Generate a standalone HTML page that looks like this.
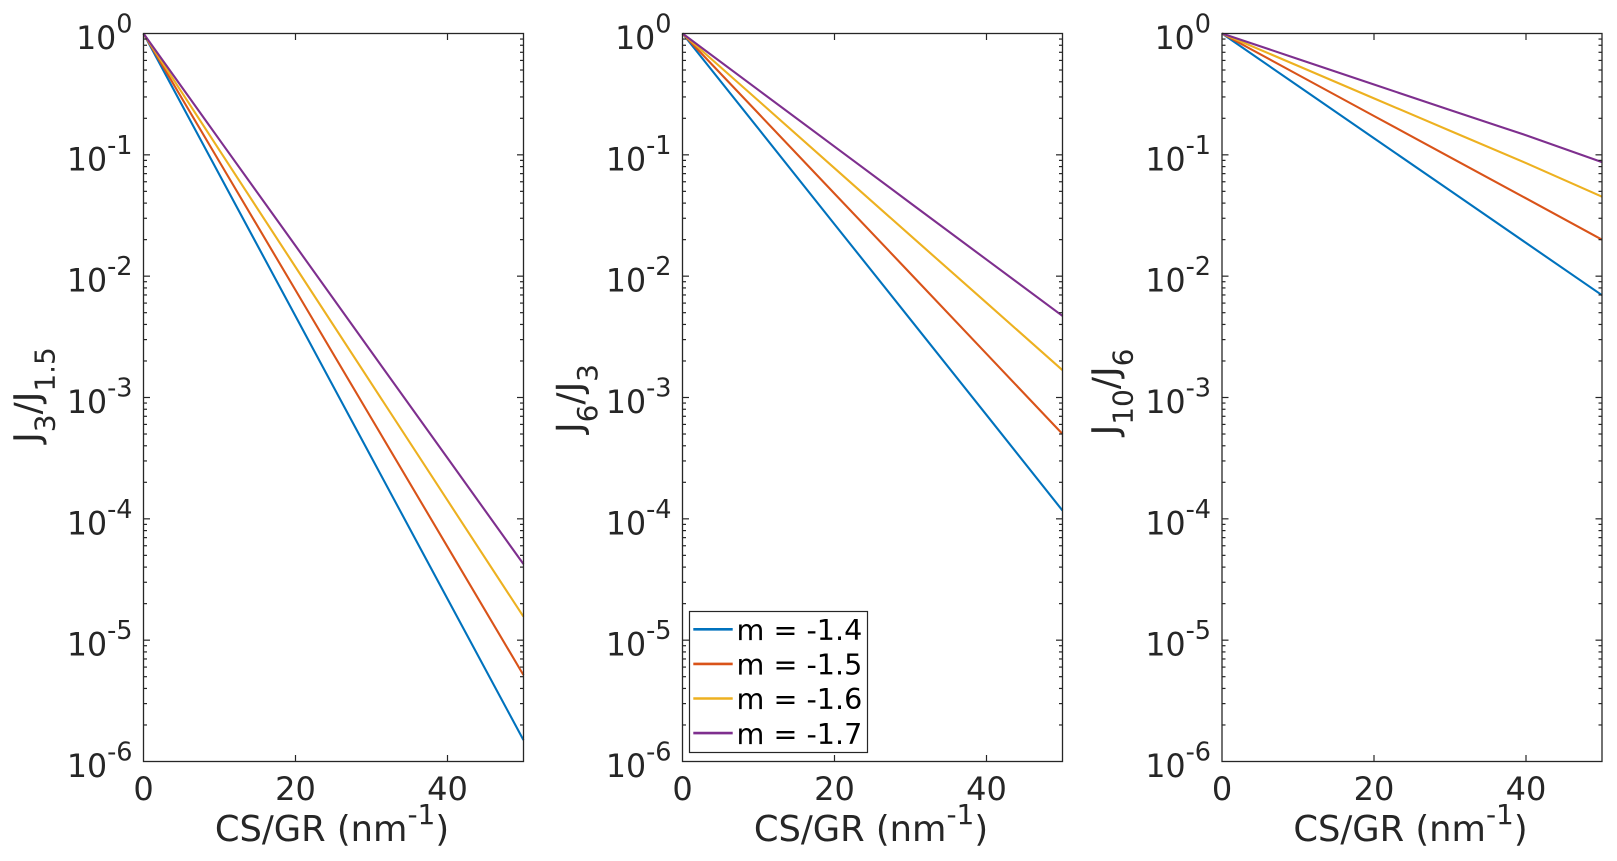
<!DOCTYPE html>
<html>
<head>
<meta charset="utf-8">
<title>J ratio charts</title>
<style>
html,body{margin:0;padding:0;background:#fff;width:1617px;height:861px;overflow:hidden}
svg{display:block}
text{font-family:"DejaVu Sans","Liberation Sans",sans-serif;fill:#262626}
</style>
</head>
<body>
<svg id="chart" xmlns="http://www.w3.org/2000/svg" width="1617" height="861" viewBox="0 0 1617 861"></svg>
<script>
// ---- data ----
const csOverGr = [0, 10, 20, 30, 40, 50];
const seriesNames = ['m = -1.4', 'm = -1.5', 'm = -1.6', 'm = -1.7'];

const ratio3Over1p5Blue = [1, 0.0684, 0.00468, 0.00032, 0.0000219, 0.0000015];
const ratio3Over1p5Red = [1, 0.0875, 0.00767, 0.000671, 0.0000588, 0.00000515];
const ratio3Over1p5Yellow = [1, 0.109, 0.0119, 0.0013, 0.000142, 0.0000156];
const ratio3Over1p5Purple = [1, 0.133, 0.0178, 0.00237, 0.000317, 0.0000423];

const ratio6Over3Blue = [1, 0.164, 0.0268, 0.00439, 0.000718, 0.000117];
const ratio6Over3Red = [1, 0.219, 0.0479, 0.0105, 0.00229, 0.0005];
const ratio6Over3Yellow = [1, 0.279, 0.0776, 0.0216, 0.00603, 0.00168];
const ratio6Over3Purple = [1, 0.342, 0.117, 0.04, 0.0137, 0.0047];

const ratio10Over6Blue = [1, 0.37, 0.137, 0.0508, 0.0188, 0.00697];
const ratio10Over6Red = [1, 0.457, 0.209, 0.0957, 0.0438, 0.02];
const ratio10Over6Yellow = [1, 0.541, 0.292, 0.158, 0.0855, 0.0452];
const ratio10Over6Purple = [1, 0.617, 0.38, 0.234, 0.145, 0.087];

const xTickValues = [0, 20, 40];
const yTickExponents = [0, -1, -2, -3, -4, -5, -6];
const minorMultipliers = [2, 3, 4, 5, 6, 7, 8, 9];

// ---- layout and style ----
const SVG_NS = 'http://www.w3.org/2000/svg';
const svg = document.getElementById('chart');
const AX_TOP = 33.5, AX_BOTTOM = 761.5, AX_WIDTH = 380;
const X_MAX = 50, Y_DECADES = 6;
const AXIS_COLOR = '#262626';
const COLORS = ['#0072BD', '#D95319', '#EDB120', '#7E2F8E'];

const panelDefs = [
  { id: 'j3-j1p5', left: 143.5, main: ['J', '3', '/J', '1.5'], labelX: 39.5, labelY: 395,
    series: [ratio3Over1p5Blue, ratio3Over1p5Red, ratio3Over1p5Yellow, ratio3Over1p5Purple] },
  { id: 'j6-j3', left: 682.5, main: ['J', '6', '/J', '3'], labelX: 582, labelY: 398.5,
    series: [ratio6Over3Blue, ratio6Over3Red, ratio6Over3Yellow, ratio6Over3Purple] },
  { id: 'j10-j6', left: 1222, main: ['J', '10', '/J', '6'], labelX: 1117.5, labelY: 392,
    series: [ratio10Over6Blue, ratio10Over6Red, ratio10Over6Yellow, ratio10Over6Purple] }
];

function node(tag, attrs, parent) {
  const el = document.createElementNS(SVG_NS, tag);
  for (const k in attrs) el.setAttribute(k, attrs[k]);
  (parent || svg).appendChild(el);
  return el;
}
function xScale(v, left) { return left + (v / X_MAX) * AX_WIDTH; }
function yScale(v) { return AX_TOP + (-Math.log10(v) / Y_DECADES) * (AX_BOTTOM - AX_TOP); }

function tick(g, x1, y1, x2, y2, name) {
  const t = node('line', { x1: x1, y1: y1, x2: x2, y2: y2, stroke: AXIS_COLOR, 'stroke-width': 1.2 }, g);
  
  
}

function drawPanel(p) {
  const g = node('g', {});
  
  
  const L = p.left, R = L + AX_WIDTH;

  // series
  p.series.forEach(function (vals, s) {
    const pts = vals.map(function (v, i) {
      return xScale(csOverGr[i], L).toFixed(2) + ',' + yScale(v).toFixed(2);
    }).join(' ');
    const line = node('polyline', { points: pts, fill: 'none', stroke: COLORS[s], 'stroke-width': 2.1 }, g);
    
    
  });

  // axes box
  const box = node('rect', { x: L, y: AX_TOP, width: AX_WIDTH, height: AX_BOTTOM - AX_TOP, fill: 'none', stroke: AXIS_COLOR, 'stroke-width': 1.3 }, g);
  
  

  // x ticks
  xTickValues.forEach(function (v) {
    const x = xScale(v, L);
    if (v !== 0) {
      tick(g, x, AX_BOTTOM, x, AX_BOTTOM - 6.5, 'x-tick');
      tick(g, x, AX_TOP, x, AX_TOP + 6.5, 'x-tick-top');
    }
    const lab = node('text', { x: x, y: 800, 'font-size': 32, 'text-anchor': 'middle' }, g);
    
    
    lab.textContent = String(v);
  });

  // y ticks
  yTickExponents.forEach(function (e) {
    const val = Math.pow(10, e);
    const y = yScale(val);
    if (e !== 0 && e !== -6) {
      tick(g, L, y, L + 6.5, y, 'y-tick');
      tick(g, R, y, R - 6.5, y, 'y-tick-right');
    }
    if (e > -6) {
      minorMultipliers.forEach(function (m) {
        const my = yScale(val * m / 10);
        tick(g, L, my, L + 3.5, my, 'y-minor-tick');
        tick(g, R, my, R - 3.5, my, 'y-minor-tick-right');
      });
    }
    const lab = node('text', { x: L - 11, y: y + 15.5, 'font-size': 31.6, 'text-anchor': 'end' }, g);
    
    
    const base = node('tspan', {}, lab);
    base.textContent = '10';
    const sup = node('tspan', { dy: -16.5, 'font-size': 25.5 }, lab);
    sup.textContent = String(e);
  });

  // x label
  const xl = node('text', { x: L + AX_WIDTH / 2 - 1.5, y: 841, 'font-size': 35.3, 'text-anchor': 'middle' }, g);
  
  
  const a = node('tspan', {}, xl);
  a.textContent = 'CS/GR (nm';
  const b = node('tspan', { dy: -17, 'font-size': 28 }, xl);
  b.textContent = '-1';
  const c = node('tspan', { dy: 17 }, xl);
  c.textContent = ')';

  // y label
  const yl = node('text', { x: 0, y: 0, 'font-size': 36, 'text-anchor': 'middle', transform: 'translate(' + p.labelX + ' ' + p.labelY + ') rotate(-90)' }, g);
  
  
  const t1 = node('tspan', {}, yl);
  t1.textContent = p.main[0];
  const t2 = node('tspan', { dy: 15, 'font-size': 28 }, yl);
  t2.textContent = p.main[1];
  const t3 = node('tspan', { dy: -15 }, yl);
  t3.textContent = p.main[2];
  const t4 = node('tspan', { dy: 15, 'font-size': 28 }, yl);
  t4.textContent = p.main[3];
}

panelDefs.forEach(drawPanel);

// legend
const legend = node('g', {});


const legendBox = node('rect', { x: 689.5, y: 611.5, width: 178, height: 141, fill: '#fff', stroke: AXIS_COLOR, 'stroke-width': 1.2 }, legend);


seriesNames.forEach(function (name, i) {
  const y = 629.3 + i * 34.6;
  const sample = node('line', { x1: 693.3, x2: 732.7, y1: y, y2: y, stroke: COLORS[i], 'stroke-width': 2.6 }, legend);
  
  
  const label = node('text', { x: 736.5, y: y + 10.7, 'font-size': 28.6, style: 'fill:#000' }, legend);
  
  
  label.textContent = name;
});
</script>
</body>
</html>
